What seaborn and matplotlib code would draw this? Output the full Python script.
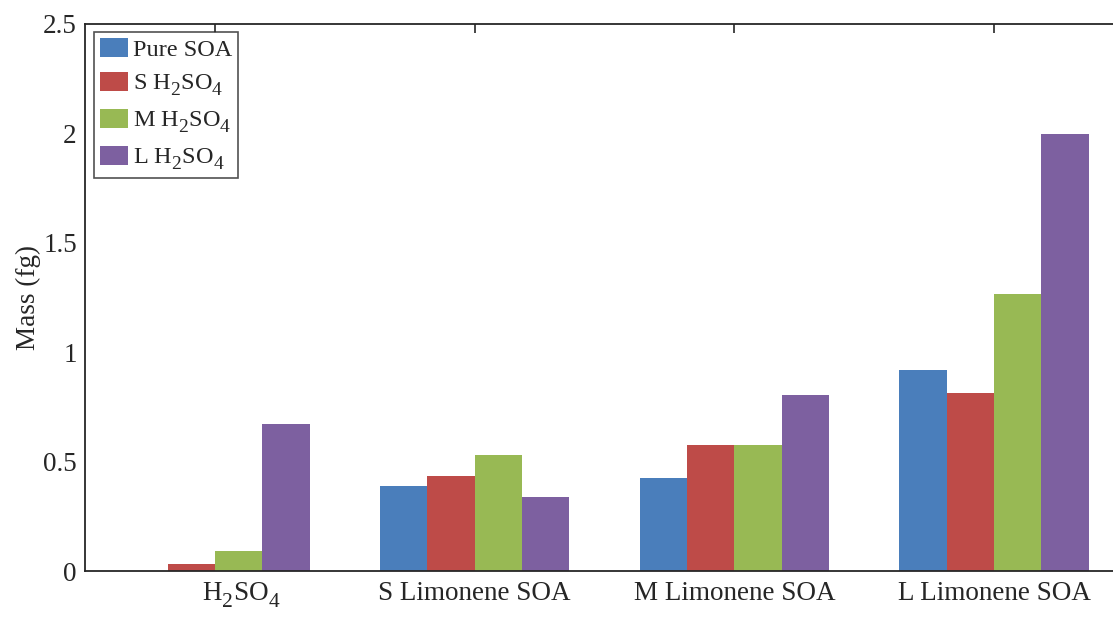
import matplotlib
matplotlib.use("Agg")
import matplotlib.pyplot as plt
import matplotlib.transforms as mtransforms
import seaborn as sns
import pandas as pd

try:
    import matplotlib._mathtext as _mt
    _mt.SHRINK_FACTOR = 0.8
    _mt.FontConstantsBase.sub1 = 0.55
    _mt.FontConstantsBase.subdrop = 0.55
except Exception:
    pass

categories = ["H$_2$SO$_4$", "S Limonene SOA", "M Limonene SOA", "L Limonene SOA"]
series = ["Pure SOA", "S H$_2$SO$_4$", "M H$_2$SO$_4$", "L H$_2$SO$_4$"]
pure_soa = [0.0, 0.390, 0.424, 0.919]
s_h2so4 = [0.031, 0.433, 0.578, 0.814]
m_h2so4 = [0.094, 0.532, 0.576, 1.266]
l_h2so4 = [0.672, 0.339, 0.803, 1.996]
colors = ["#4a7ebb", "#be4b48", "#98b954", "#7d60a0"]
yticks = [0, 0.5, 1, 1.5, 2, 2.5]
ytick_labels = ["0", "0.5", "1", "1.5", "2", "2.5"]

sns.set_style("white")
plt.rcParams["font.family"] = ["Liberation Serif", "DejaVu Serif"]
plt.rcParams["mathtext.default"] = "regular"

rows = []
for vals, s in zip([pure_soa, s_h2so4, m_h2so4, l_h2so4], series):
    for c, v in zip(categories, vals):
        rows.append({"category": c, "series": s, "mass": v})
df = pd.DataFrame(rows)

W, H = 1113, 620
fig = plt.figure(figsize=(W / 100, H / 100), dpi=100)
ax = fig.add_axes([85.2 / W, 1 - 571.2 / H, 1038.7 / W, 547.5 / H])

sns.barplot(data=df, x="category", y="mass", hue="series", order=categories,
            hue_order=series, palette=colors, width=0.729, gap=0, saturation=1,
            linewidth=0, errorbar=None, ax=ax)

ax.set_xlim(-0.5, 3.5)
ax.set_ylim(0, 2.5)
ax.set_yticks(yticks)
ax.set_yticklabels(ytick_labels)
ax.set_xlabel("")
ax.set_ylabel("Mass (fg)", fontsize=19.5, labelpad=1.5)
spine_color = "#262626"
for sp in ax.spines.values():
    sp.set_visible(True)
    sp.set_color(spine_color)
    sp.set_linewidth(1.3)
ax.tick_params(axis="both", direction="in", length=6.5, width=1.2, color=spine_color,
               labelsize=19.5, labelcolor="#262626", top=True, right=True)
ax.tick_params(axis="x", pad=7)
ax.tick_params(axis="y", pad=6)

# the first category label sits slightly right of its group in the reference
lbl0 = ax.get_xticklabels()[0]
lbl0.set_transform(lbl0.get_transform() +
                   mtransforms.ScaledTranslation(26 / 100, 0, fig.dpi_scale_trans))

leg = ax.legend(loc="upper left", bbox_to_anchor=(9 / 1038.7, 1 - 8 / 547.5),
                borderaxespad=0, frameon=True, fancybox=False, fontsize=17.5,
                handlelength=1.15, handleheight=0.83, handletextpad=0.2,
                labelspacing=0.45, borderpad=0.25)
leg.get_frame().set_edgecolor("#262626")
leg.get_frame().set_linewidth(1.2)
for t in leg.get_texts():
    t.set_color("#262626")

fig.savefig("out.png", dpi=100)
